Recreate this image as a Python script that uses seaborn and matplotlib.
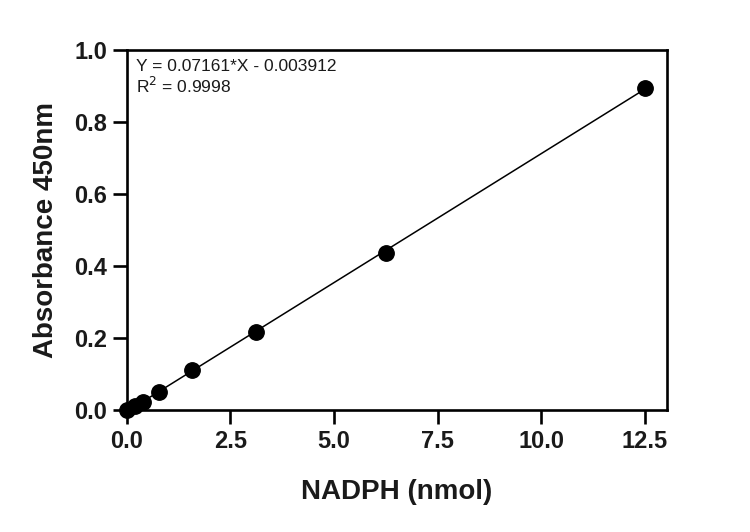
import seaborn as sns
import pandas as pd
import numpy as np
import matplotlib.pyplot as plt

# Standard curve data
nadph = [0.0, 0.195, 0.39, 0.78, 1.5625, 3.125, 6.25, 12.5]
absorbance = [0.0, 0.011, 0.022, 0.050, 0.111, 0.217, 0.436, 0.894]
slope = 0.07161
intercept = -0.003912
fit_x = [0.0, 12.5]

df = pd.DataFrame({'x': nadph, 'y': absorbance})
fit = pd.DataFrame({'x': fit_x, 'y': [slope * v + intercept for v in fit_x]})

sns.set_style('white')
plt.rcParams['font.family'] = ['Liberation Sans', 'DejaVu Sans']
plt.rcParams['text.color'] = 'black'
plt.rcParams['axes.labelcolor'] = '#1a1a1a'

fig = plt.figure(figsize=(7.5, 5.32), dpi=100)
ax = fig.add_axes([0.169, 0.229, 0.72, 0.677])

sns.lineplot(data=fit, x='x', y='y', color='black', linewidth=1.1, ax=ax)
sns.scatterplot(data=df, x='x', y='y', color='black', s=125, edgecolor='black',
                zorder=5, clip_on=False, ax=ax)

ax.set_xlim(0, 13.03)
ax.set_ylim(0, 1.0)
ax.set_xticks([0, 2.5, 5, 7.5, 10, 12.5])
ax.set_xticklabels(['0.0', '2.5', '5.0', '7.5', '10.0', '12.5'])
ax.set_yticks([0, 0.2, 0.4, 0.6, 0.8, 1.0])
ax.set_yticklabels(['0.0', '0.2', '0.4', '0.6', '0.8', '1.0'])

for sp in ax.spines.values():
    sp.set_linewidth(1.9)
    sp.set_color('black')
ax.tick_params(bottom=True, left=True, direction='out', length=10, width=1.9,
               color='black', labelcolor='#1a1a1a', labelsize=17, pad=4)
for lab in ax.get_xticklabels() + ax.get_yticklabels():
    lab.set_fontweight('bold')

ax.set_xlabel('NADPH (nmol)', fontsize=20, fontweight='bold', labelpad=19)
ax.set_ylabel('Absorbance 450nm', fontsize=20, fontweight='bold', labelpad=11)

ax.text(0.018, 0.975, 'Y = 0.07161*X - 0.003912\nR$^2$ = 0.9998',
        transform=ax.transAxes, ha='left', va='top', fontsize=12.5,
        linespacing=1.1, color='#1a1a1a')

fig.savefig('out.png', dpi=100)
